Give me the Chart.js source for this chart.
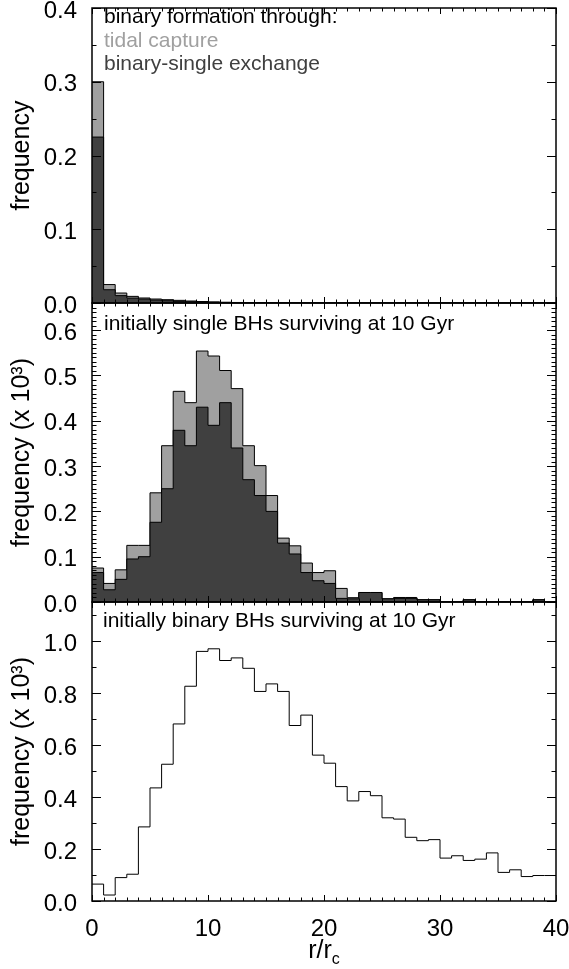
<!DOCTYPE html>
<html>
<head>
<meta charset="utf-8">
<title>r/rc histograms</title>
<script src="https://cdn.jsdelivr.net/npm/chart.js@4.4.1/dist/chart.umd.min.js"></script>
<style>
    html, body { margin: 0; padding: 0; background: #fff; }
    #wrap { position: relative; width: 569px; height: 969px; }
    #wrap canvas { position: absolute; left: 0; top: 0; }
</style>
</head>
<body>
<div id="wrap">
    <canvas id="grafica-formacion" width="569" height="969"></canvas>
    <canvas id="grafica-single" width="569" height="969"></canvas>
    <canvas id="grafica-binary" width="569" height="969"></canvas>
</div>
<script>
// Histogram values, one per r/rc bin of width 1 (0..40)

// top panel: binary formation through
const tidalCapture = [0.300, 0.025, 0.0135, 0.009, 0.0068, 0.0054, 0.0045, 0.0036, 0.0027, 0.002,
    0.0015, 0.001, 0.0007, 0.0005, 0.0004, 0.0003, 0.0002, 0.0002, 0.0001, 0.0001,
    0, 0, 0, 0, 0, 0, 0, 0, 0, 0, 0, 0, 0, 0, 0, 0, 0, 0, 0, 0];
const binarySingleExchange = [0.225, 0.018, 0.010, 0.0067, 0.0054, 0.004, 0.0031, 0.0022, 0.0018, 0.0013,
    0.001, 0.0007, 0.0005, 0.0003, 0.0002, 0.0002, 0.0001, 0.0001, 0, 0,
    0, 0, 0, 0, 0, 0, 0, 0, 0, 0, 0, 0, 0, 0, 0, 0, 0, 0, 0, 0];

// middle panel: initially single BHs surviving at 10 Gyr (x 10^3)
const singleTidal = [0.075, 0.041, 0.071, 0.125, 0.125, 0.241, 0.345, 0.465, 0.440, 0.554,
    0.543, 0.511, 0.471, 0.345, 0.301, 0.235, 0.141, 0.124, 0.086, 0.065,
    0.069, 0.030, 0.0095, 0.021, 0.021, 0.007, 0.010, 0.010, 0.005, 0.005,
    0, 0, 0.005, 0, 0, 0, 0, 0, 0.005, 0];
const singleExchange = [0.065, 0.027, 0.050, 0.095, 0.100, 0.176, 0.250, 0.379, 0.345, 0.430,
    0.390, 0.440, 0.340, 0.270, 0.235, 0.200, 0.130, 0.106, 0.065, 0.047,
    0.041, 0.008, 0.007, 0.021, 0.021, 0.007, 0.008, 0.008, 0.005, 0.005,
    0, 0, 0.005, 0, 0, 0, 0, 0, 0.005, 0];

// bottom panel: initially binary BHs surviving at 10 Gyr (x 10^3)
const binaryBHs = [0.065, 0.023, 0.090, 0.103, 0.285, 0.435, 0.526, 0.681, 0.826, 0.960,
    0.970, 0.925, 0.935, 0.895, 0.806, 0.835, 0.806, 0.675, 0.715, 0.561,
    0.530, 0.440, 0.385, 0.421, 0.405, 0.320, 0.315, 0.245, 0.232, 0.236,
    0.165, 0.174, 0.156, 0.161, 0.185, 0.110, 0.120, 0.094, 0.098, 0.098];

// tick labels
const xTicks = [0, 10, 20, 30, 40];
const yTicksTop = [0.0, 0.1, 0.2, 0.3, 0.4];
const yTicksMiddle = [0.0, 0.1, 0.2, 0.3, 0.4, 0.5, 0.6];
const yTicksBottom = [0.0, 0.2, 0.4, 0.6, 0.8, 1.0];

const FONT = "'Liberation Sans', Arial, Helvetica, sans-serif";
const LIGHT = '#a0a0a0';
const DARK = '#404040';

Chart.defaults.color = '#000';
Chart.defaults.font.family = FONT;

// turn bin values into points for a stepped line (last point closes the last bin)
function stepPoints(values) {
    const pts = values.map((v, i) => ({ x: i, y: v }));
    pts.push({ x: values.length, y: values[values.length - 1] });
    return pts;
}

// frame with inward ticks on all four sides, plus the text notes
const idlFrame = {
    id: 'idlFrame',
    afterDraw(chart, args, opts) {
        const { ctx, chartArea: a } = chart;
        const x = chart.scales.x;
        const y = chart.scales.y;
        ctx.save();
        ctx.strokeStyle = '#000';
        ctx.lineWidth = 1;
        ctx.beginPath();
        const nx = Math.round((x.max - x.min) / opts.xMinor);
        for (let k = 0; k <= nx; k++) {
            const px = Math.round(x.getPixelForValue(x.min + k * opts.xMinor)) + 0.5;
            const len = k % opts.xEvery === 0 ? opts.xMajorLen : opts.xMinorLen;
            ctx.moveTo(px, a.bottom); ctx.lineTo(px, a.bottom - len);
            ctx.moveTo(px, a.top); ctx.lineTo(px, a.top + len);
        }
        const ny = Math.floor((y.max - y.min) / opts.yMinor + 1e-6);
        for (let k = 0; k <= ny; k++) {
            const py = Math.round(y.getPixelForValue(y.min + k * opts.yMinor)) + 0.5;
            const len = k % opts.yEvery === 0 ? opts.yMajorLen : opts.yMinorLen;
            ctx.moveTo(a.left, py); ctx.lineTo(a.left + len, py);
            ctx.moveTo(a.right, py); ctx.lineTo(a.right - len, py);
        }
        ctx.stroke();
        ctx.lineWidth = 1.5;
        ctx.strokeRect(a.left, a.top, a.right - a.left, a.bottom - a.top);

        ctx.textBaseline = 'alphabetic';
        ctx.textAlign = 'left';
        ctx.font = '21px ' + FONT;
        (opts.notes || []).forEach(n => {
            ctx.fillStyle = n.color;
            ctx.fillText(n.text, n.x, n.y);
        });

        if (opts.xTitle) {
            const t = opts.xTitle;
            ctx.font = '25px ' + FONT;
            const w1 = ctx.measureText(t.main).width;
            ctx.font = '16px ' + FONT;
            const w2 = ctx.measureText(t.sub).width;
            const x0 = (a.left + a.right) / 2 - (w1 + w2) / 2;
            ctx.fillStyle = '#000';
            ctx.font = '25px ' + FONT;
            ctx.fillText(t.main, x0, t.y);
            ctx.font = '16px ' + FONT;
            ctx.fillText(t.sub, x0 + w1, t.y + 6);
        }
        ctx.restore();
    }
};

function makePanel(canvasId, top, bottom, datasets, yMax, yTicks, yTitle, frame, showX) {
    const ctx = document.getElementById(canvasId).getContext('2d');
    const xHeight = showX ? 50 : 0;
    return new Chart(ctx, {
        type: 'line',
        data: { datasets: datasets },
        options: {
            responsive: false,
            animation: false,
            events: [],
            layout: { padding: { left: 0, right: 569 - 556, top: top, bottom: 969 - bottom - xHeight } },
            elements: { point: { radius: 0 }, line: { tension: 0 } },
            scales: {
                x: {
                    type: 'linear',
                    min: 0,
                    max: 40,
                    grid: { display: false },
                    border: { display: false },
                    afterFit: s => {
                        s.height = xHeight;
                        s.paddingLeft = 0;
                        s.paddingRight = 0;
                    },
                    afterBuildTicks: s => { s.ticks = xTicks.map(v => ({ value: v })); },
                    ticks: {
                        display: showX,
                        padding: 6,
                        maxRotation: 0,
                        autoSkip: false,
                        font: { size: 24 },
                        callback: v => String(v)
                    }
                },
                y: {
                    type: 'linear',
                    min: 0,
                    max: yMax,
                    grid: { display: false },
                    border: { display: false },
                    afterFit: s => {
                        s.width = 92;
                        s.paddingTop = 0;
                        s.paddingBottom = 0;
                    },
                    afterBuildTicks: s => { s.ticks = yTicks.map(v => ({ value: v })); },
                    ticks: {
                        padding: 7,
                        labelOffset: 3,
                        autoSkip: false,
                        font: { size: 24 },
                        callback: v => Number(v).toFixed(1)
                    },
                    title: {
                        display: true,
                        text: yTitle,
                        font: { size: 25 },
                        padding: { top: 7, bottom: 0 }
                    }
                }
            },
            plugins: {
                legend: { display: false },
                tooltip: { enabled: false },
                idlFrame: frame
            }
        },
        plugins: [idlFrame]
    });
}

function histo(values, fillColor) {
    return {
        data: stepPoints(values),
        stepped: true,
        borderColor: '#000',
        borderWidth: 1,
        backgroundColor: fillColor || 'rgba(0,0,0,0)',
        fill: fillColor ? 'origin' : false
    };
}

window.onload = () => {
    makePanel('grafica-formacion', 8, 303,
        [histo(binarySingleExchange, DARK), histo(tidalCapture, LIGHT)],
        0.4, yTicksTop, 'frequency',
        {
            xMinor: 1, xEvery: 10, xMajorLen: 6, xMinorLen: 3.5,
            yMinor: 0.05, yEvery: 2, yMajorLen: 9, yMinorLen: 4.5,
            notes: [
                { text: 'binary formation through:', color: '#000', x: 104, y: 23 },
                { text: 'tidal capture', color: LIGHT, x: 104, y: 47 },
                { text: 'binary-single exchange', color: DARK, x: 104, y: 70 }
            ]
        }, false);

    makePanel('grafica-single', 303, 602,
        [histo(singleExchange, DARK), histo(singleTidal, LIGHT)],
        0.66, yTicksMiddle, 'frequency (x 10\u00b3)',
        {
            xMinor: 1, xEvery: 10, xMajorLen: 6, xMinorLen: 3.5,
            yMinor: 0.01, yEvery: 10, yMajorLen: 9, yMinorLen: 4.5,
            notes: [
                { text: 'initially single BHs surviving at 10 Gyr', color: '#000', x: 104, y: 330 }
            ]
        }, false);

    makePanel('grafica-binary', 602, 901,
        [histo(binaryBHs)],
        1.15, yTicksBottom, 'frequency (x 10\u00b3)',
        {
            xMinor: 1, xEvery: 10, xMajorLen: 6, xMinorLen: 3.5,
            yMinor: 0.1, yEvery: 2, yMajorLen: 9, yMinorLen: 4.5,
            notes: [
                { text: 'initially binary BHs surviving at 10 Gyr', color: '#000', x: 103, y: 627 }
            ],
            xTitle: { main: 'r/r', sub: 'c', y: 958 }
        }, true);
};
</script>
</body>
</html>
